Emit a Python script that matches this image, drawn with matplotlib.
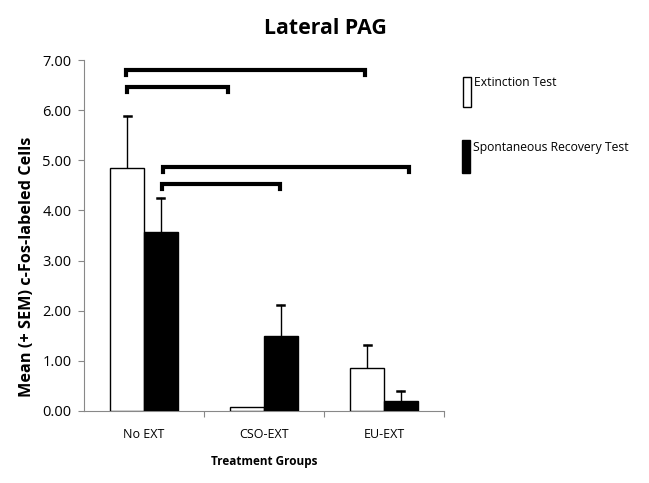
import matplotlib
matplotlib.use("Agg")
import matplotlib.pyplot as plt
import numpy as np
from matplotlib.patches import Rectangle

plt.rcParams['font.family'] = ['Open Sans', 'DejaVu Sans']

categories = ["No EXT", "CSO-EXT", "EU-EXT"]
ext_mean = [4.85, 0.07, 0.86]
ext_sem = [1.03, 0.0, 0.46]
sr_mean = [3.57, 1.50, 0.20]
sr_sem = [0.68, 0.62, 0.20]
series_names = ["Extinction Test", "Spontaneous Recovery Test"]
yticks = [0, 1, 2, 3, 4, 5, 6, 7]
# significance brackets: (x_start, x_end, y)
brackets = [(-0.15, 1.84, 6.80), (-0.14, 0.70, 6.47), (0.16, 2.21, 4.87), (0.15, 1.13, 4.53)]

W, H = 649, 483
fig = plt.figure(figsize=(W/100, H/100), dpi=100)
ax = fig.add_axes([84/W, 1-411/H, 360/W, 351/H])

x = np.arange(len(categories))
w = 0.28
ax.bar(x - w/2, ext_mean, w, color='white', edgecolor='black', linewidth=1.0, zorder=3)
ax.bar(x + w/2, sr_mean, w, color='black', edgecolor='black', linewidth=1.0, zorder=3)
for xs, means, sems in ((x - w/2, ext_mean, ext_sem), (x + w/2, sr_mean, sr_sem)):
    for xi, m, s in zip(xs, means, sems):
        if s > 0:
            ax.plot([xi, xi], [m, m + s], color='black', lw=1.0, zorder=2)
            ax.plot([xi - 0.03, xi + 0.03], [m + s, m + s], color='black', lw=1.8, zorder=2)

for x0, x1, yb in brackets:
    ax.plot([x0, x0, x1, x1], [yb - 0.1, yb, yb, yb - 0.1], color='black', lw=3.0,
            solid_joinstyle='miter', clip_on=False)

ax.set_xlim(-0.5, 2.5)
ax.set_ylim(0, 7)
ax.set_yticks(yticks)
ax.set_yticklabels([f"{v:.2f}" for v in yticks], fontsize=10.5)
ax.set_xticks([0.5, 1.5, 2.5])
ax.set_xticklabels([])
ax.tick_params(axis='x', length=4, color='#888888', direction='out')
ax.tick_params(axis='y', length=4, color='#888888', direction='out', pad=5)
for i, c in enumerate(categories):
    ax.text(i, -0.46, c, ha='center', va='center', fontsize=9)
ax.spines['top'].set_visible(False)
ax.spines['right'].set_visible(False)
ax.spines['left'].set_color('#888888')
ax.spines['bottom'].set_color('#888888')

fig.text(27/W, 1-267/H, "Mean (+ SEM) c-Fos-labeled Cells", rotation=90,
         ha='center', va='center', fontsize=11.7, fontweight='bold')
fig.text(264/W, 1-461/H, "Treatment Groups", ha='center', va='center',
         fontsize=8.5, fontweight='bold')
fig.text(325/W, 1-28/H, "Lateral PAG", ha='center', va='center', fontsize=15.3, fontweight='bold')

# legend
fig.patches.append(Rectangle((463/W, 1-107/H), 8/W, 30/H, transform=fig.transFigure,
                             facecolor='white', edgecolor='black', lw=1.0))
fig.patches.append(Rectangle((462/W, 1-173/H), 8/W, 33/H, transform=fig.transFigure,
                             facecolor='black', edgecolor='black', lw=1.0))
fig.text(474/W, 1-82/H, series_names[0], ha='left', va='center', fontsize=8.7)
fig.text(473/W, 1-147/H, series_names[1], ha='left', va='center', fontsize=8.7)

fig.savefig("out.png", dpi=100)
